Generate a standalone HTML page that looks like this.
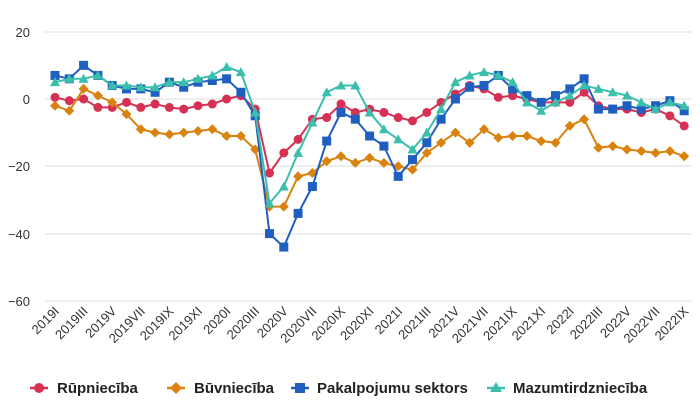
<!DOCTYPE html>
<html><head><meta charset="utf-8"><style>body{margin:0;background:#fff}svg{display:block}text{font-family:"Liberation Sans",sans-serif}</style></head><body>
<svg id="s" width="700" height="407" xmlns="http://www.w3.org/2000/svg">
<g stroke="#ddd" stroke-width="1">
<line x1="45" x2="692" y1="32" y2="32"/><line x1="45" x2="692" y1="99" y2="99"/><line x1="45" x2="692" y1="166" y2="166"/><line x1="45" x2="692" y1="234" y2="234"/><line x1="45" x2="692" y1="301" y2="301"/>
</g>
<g font-size="13" fill="#333" text-anchor="end">
<text x="30" y="37">20</text><text x="30" y="104">0</text><text x="30" y="171">−20</text><text x="30" y="239">−40</text><text x="30" y="306">−60</text>
</g>
<g id="xl" font-size="13" fill="#333" text-anchor="end"></g>
<g id="series"></g>
<g font-size="15" font-weight="bold" fill="#222">
<line x1="30" x2="48" y1="388" y2="388" stroke="#d63155" stroke-width="2.5"/><circle cx="39" cy="388" r="5" fill="#d63155"/><text x="57" y="393">Rūpniecība</text>
<line x1="167" x2="185" y1="388" y2="388" stroke="#d9820f" stroke-width="2.5"/><path d="M176 382l6 6-6 6-6-6z" fill="#d9820f"/><text x="194" y="393">Būvniecība</text>
<line x1="291" x2="309" y1="388" y2="388" stroke="#1f5fbf" stroke-width="2.5"/><rect x="295" y="383" width="10" height="10" fill="#1f5fbf"/><text x="317" y="393">Pakalpojumu sektors</text>
<line x1="487" x2="505" y1="388" y2="388" stroke="#3bbfad" stroke-width="2.5"/><path d="M496 382l6 10h-12z" fill="#3bbfad"/><text x="513" y="393">Mazumtirdzniecība</text>
</g>
</svg>
<script>
const X=i=>55+i*14.3,Y=v=>99-v*3.365;
const R=[0.5,-0.5,0,-2.5,-2.5,-1,-2.5,-1.5,-2.5,-3,-2,-1.5,0,1,-3,-22,-16,-12,-6,-5.5,-1.5,-4,-3,-4,-5.5,-6.5,-4,-1,1.5,4,3,0.5,1,0,-1,-1,-1,2,-2,-3,-3,-4,-3,-5,-8];
const O=[-2,-3.5,3,1,-1,-4.5,-9,-10,-10.5,-10,-9.5,-9,-11,-11,-15,-32,-32,-23,-22,-18.5,-17,-19,-17.5,-19,-20,-21,-16,-13,-10,-13,-9,-11.5,-11,-11,-12.5,-13,-8,-6,-14.5,-14,-15,-15.5,-16,-15.5,-17];
const B=[7,6,10,7,4,3,3,2,5,3.5,5,5.5,6,2,-5,-40,-44,-34,-26,-12.5,-4,-6,-11,-14,-23,-18,-13,-6,0,3.5,4,7,3,1,-1,1,3,6,-3,-3,-2,-3,-2,-0.5,-3.5];
const T=[5,6,6,7,4,4,3.5,3.5,5,5,6,7,9.5,8,-4,-31,-26,-16,-7,2,4,4,-4,-9,-12,-15,-10,-3,5,7,8,7,5,-1,-3.5,-1,1,4,3,2,1,-1,-3,-1,-2];
let h='';
function ser(d,c,m){h+=`<polyline fill="none" stroke="${c}" stroke-width="2" points="${d.map((v,i)=>X(i)+','+Y(v)).join(' ')}"/>`;
d.forEach((v,i)=>{const x=X(i),y=Y(v);
if(m=='c')h+=`<circle cx="${x}" cy="${y}" r="4.5" fill="${c}"/>`;
else if(m=='d')h+=`<path d="M${x} ${y-5}l5 5-5 5-5-5z" fill="${c}"/>`;
else if(m=='s')h+=`<rect x="${x-4.5}" y="${y-4.5}" width="9" height="9" fill="${c}"/>`;
else h+=`<path d="M${x} ${y-5}l5 9h-10z" fill="${c}"/>`;});}
ser(R,'#d63155','c');ser(O,'#d9820f','d');ser(B,'#1f5fbf','s');ser(T,'#3bbfad','t');
document.getElementById('series').innerHTML=h;
const rm=['I','II','III','IV','V','VI','VII','VIII','IX','X','XI','XII'];let l='';
for(let i=0;i<45;i+=2){const y=2019+Math.floor(i/12),m=rm[i%12];l+=`<text transform="translate(${X(i)+5},312) rotate(-45)">${y}${m}</text>`;}
document.getElementById('xl').innerHTML=l;
</script>
</body></html>
